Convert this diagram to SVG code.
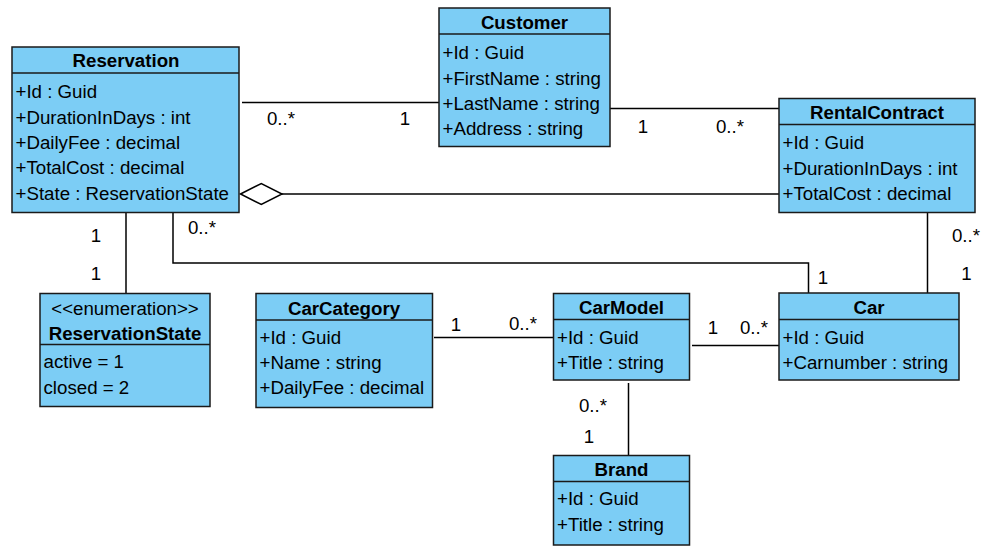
<svg xmlns="http://www.w3.org/2000/svg" width="991" height="557" viewBox="0 0 991 557">
<style>
.box{fill:#7ccdf5;stroke:#1a1a1a;stroke-width:1.5}
.sep{stroke:#1a1a1a;stroke-width:1.5}
text{font-family:"Liberation Sans",Arial,sans-serif;font-size:18.7px;fill:#000}
.t{font-weight:bold;text-anchor:middle}
.c{text-anchor:middle}
.ln{fill:none;stroke:#000;stroke-width:1.5}
</style>
<rect width="991" height="557" fill="#fff"/>
<g id="connectors">
<line class="ln" x1="242" y1="102.5" x2="439" y2="102.5"/>
<line class="ln" x1="610" y1="108.5" x2="779" y2="108.5"/>
<path class="ln" d="M282,194 L779,194"/>
<path class="ln" d="M240.5,194 L261.3,183.5 L282,194 L261.3,204.5 Z" style="fill:#fff"/>
<line class="ln" x1="927.5" y1="213" x2="927.5" y2="293"/>
<path class="ln" d="M173,213 V263 H808.5 V293"/>
<line class="ln" x1="126" y1="213" x2="126" y2="293"/>
<line class="ln" x1="434" y1="337.5" x2="553" y2="337.5"/>
<line class="ln" x1="692" y1="345.5" x2="779" y2="345.5"/>
<line class="ln" x1="628.5" y1="383" x2="628.5" y2="455"/>
<g id="labels">
<text class="c" x="281" y="124.5">0..*</text>
<text class="c" x="405" y="124.5">1</text>
<text class="c" x="643" y="132.5">1</text>
<text class="c" x="730" y="132.5">0..*</text>
<text class="c" x="966" y="241.5">0..*</text>
<text class="c" x="966.5" y="279.5">1</text>
<text class="c" x="823" y="284">1</text>
<text class="c" x="202" y="233.5">0..*</text>
<text class="c" x="96" y="241.5">1</text>
<text class="c" x="96" y="279.5">1</text>
<text class="c" x="456" y="330.5">1</text>
<text class="c" x="523" y="329.5">0..*</text>
<text class="c" x="713" y="333.5">1</text>
<text class="c" x="754" y="333.5">0..*</text>
<text class="c" x="593" y="411.5">0..*</text>
<text class="c" x="589" y="442.5">1</text>
</g>
</g>
<g id="Reservation">
<rect class="box" x="12" y="47" width="227" height="165.5"/>
<line class="sep" x1="12" y1="73" x2="239" y2="73"/>
<text class="t" x="126" y="67.4">Reservation</text>
<text x="15.5" y="98">+Id : Guid</text>
<text x="15.5" y="123.7">+DurationInDays : int</text>
<text x="15.5" y="149">+DailyFee : decimal</text>
<text x="15.5" y="174.2">+TotalCost : decimal</text>
<text x="15.5" y="199.7">+State : ReservationState</text>
</g>
<g id="Customer">
<rect class="box" x="439" y="8" width="171" height="138.5"/>
<line class="sep" x1="439" y1="34" x2="610" y2="34"/>
<text class="t" x="524.5" y="29">Customer</text>
<text x="442.5" y="59">+Id : Guid</text>
<text x="442.5" y="84.7">+FirstName : string</text>
<text x="442.5" y="109.7">+LastName : string</text>
<text x="442.5" y="134.7">+Address : string</text>
</g>
<g id="RentalContract">
<rect class="box" x="779" y="98.5" width="196" height="114"/>
<line class="sep" x1="779" y1="124.5" x2="975" y2="124.5"/>
<text class="t" x="877" y="119">RentalContract</text>
<text x="782.5" y="149">+Id : Guid</text>
<text x="782.5" y="174.7">+DurationInDays : int</text>
<text x="782.5" y="200.4">+TotalCost : decimal</text>
</g>
<g id="Car">
<rect class="box" x="779" y="293" width="180" height="87"/>
<line class="sep" x1="779" y1="319.5" x2="959" y2="319.5"/>
<text class="t" x="869" y="314.4">Car</text>
<text x="782.5" y="343.7">+Id : Guid</text>
<text x="782.5" y="369">+Carnumber : string</text>
</g>
<g id="ReservationState">
<rect class="box" x="40" y="293.5" width="170" height="113"/>
<line class="sep" x1="40" y1="344.5" x2="210" y2="344.5"/>
<text class="c" x="125" y="314.5">&lt;&lt;enumeration&gt;&gt;</text>
<text class="t" x="125" y="339.7">ReservationState</text>
<text x="43.5" y="368">active = 1</text>
<text x="43.5" y="393.7">closed = 2</text>
</g>
<g id="CarCategory">
<rect class="box" x="256" y="293.5" width="176.5" height="114"/>
<line class="sep" x1="256" y1="320" x2="432.5" y2="320"/>
<text class="t" x="344" y="314.7">CarCategory</text>
<text x="259.5" y="343.7">+Id : Guid</text>
<text x="259.5" y="368.7">+Name : string</text>
<text x="259.5" y="393.7">+DailyFee : decimal</text>
</g>
<g id="CarModel">
<rect class="box" x="553.5" y="293.5" width="136" height="86.5"/>
<line class="sep" x1="553.5" y1="319.5" x2="689.5" y2="319.5"/>
<text class="t" x="621.5" y="314">CarModel</text>
<text x="557" y="343.7">+Id : Guid</text>
<text x="557" y="368.7">+Title : string</text>
</g>
<g id="Brand">
<rect class="box" x="553.5" y="455.5" width="136" height="89.5"/>
<line class="sep" x1="553.5" y1="481.5" x2="689.5" y2="481.5"/>
<text class="t" x="621.5" y="475.7">Brand</text>
<text x="557" y="504.7">+Id : Guid</text>
<text x="557" y="530.7">+Title : string</text>
</g>
</svg>
